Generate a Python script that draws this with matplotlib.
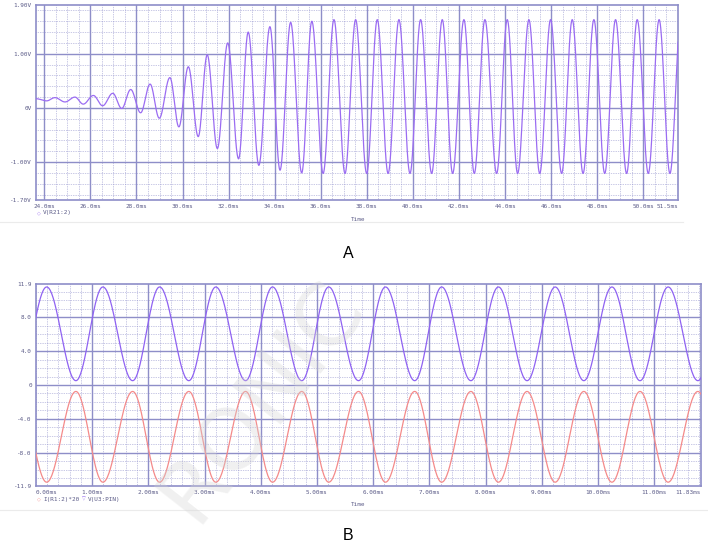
import numpy as np
import matplotlib
matplotlib.use("Agg")
import matplotlib.pyplot as plt
from matplotlib.lines import Line2D

# ---------------- data ----------------
# Panel A : V(R21:2) -- successive extrema (time in ms, volts)
a_time = [23.64, 24.10, 24.46, 24.90, 25.33, 25.69, 26.13, 26.53, 26.97, 27.36,
          27.75, 28.18, 28.59, 28.99, 29.45, 29.84, 30.25, 30.68, 31.07, 31.51,
          31.96, 32.43, 32.85, 33.31, 33.79, 34.23, 34.69, 35.17, 35.61, 36.10,
          36.57, 37.05, 37.51, 37.99, 38.45, 38.92, 39.39, 39.87, 40.33, 40.81,
          41.27, 41.72, 42.21, 42.66, 43.12, 43.63, 44.09, 44.54, 45.03, 45.50,
          45.97, 46.45, 46.91, 47.38, 47.85, 48.32, 48.79, 49.27, 49.73, 50.21,
          50.68, 51.15, 51.62]
a_volt = [0.17, 0.13, 0.19, 0.11, 0.20, 0.07, 0.23, 0.04, 0.27, -0.01,
          0.34, -0.09, 0.44, -0.19, 0.56, -0.35, 0.76, -0.53, 0.98, -0.75,
          1.20, -0.94, 1.40, -1.06, 1.50, -1.15, 1.58, -1.20, 1.60, -1.21,
          1.63, -1.21, 1.63, -1.21, 1.63, -1.21, 1.63, -1.21, 1.63, -1.21,
          1.63, -1.21, 1.63, -1.21, 1.63, -1.21, 1.63, -1.21, 1.63, -1.21,
          1.63, -1.21, 1.63, -1.21, 1.63, -1.21, 1.63, -1.21, 1.63, -1.21,
          1.63, -1.21, 1.63]
a_xticks = [24, 26, 28, 30, 32, 34, 36, 38, 40, 42, 44, 46, 48, 50]
a_xlabels = ["24.0ms", "26.0ms", "28.0ms", "30.0ms", "32.0ms", "34.0ms", "36.0ms",
             "38.0ms", "40.0ms", "42.0ms", "44.0ms", "46.0ms", "48.0ms", "50.0ms"]
a_yticks = [1.0, 0.0, -1.0]
a_ylabels = ["1.00V", "0V", "-1.00V"]

# Panel B : extrema times (ms) and levels of both traces
b_time = [-0.31, 0.19, 0.71, 1.19, 1.72, 2.20, 2.72, 3.20, 3.73, 4.21, 4.73,
          5.21, 5.74, 6.22, 6.74, 7.22, 7.74, 8.23, 8.74, 9.24, 9.75, 10.25,
          10.75, 11.25, 11.78, 12.28]
b_vpin = [0.51, 11.55] * 13          # V(U3:PIN)
b_ir1 = [-0.76, -11.45] * 13         # I(R1:2)*20
b_xticks = [1, 2, 3, 4, 5, 6, 7, 8, 9, 10, 11]
b_xlabels = ["1.00ms", "2.00ms", "3.00ms", "4.00ms", "5.00ms", "6.00ms",
             "7.00ms", "8.00ms", "9.00ms", "10.00ms", "11.00ms"]
b_yticks = [8.0, 4.0, 0.0, -4.0, -8.0]
b_ylabels = ["8.0", "4.0", "0", "-4.0", "-8.0"]


def smooth(ts, vs, n=40):
    xs, ys = [], []
    for i in range(len(ts) - 1):
        s = np.linspace(0, 1, n, endpoint=False)
        xs.append(ts[i] + (ts[i + 1] - ts[i]) * s)
        ys.append(vs[i] + (vs[i + 1] - vs[i]) * (1 - np.cos(np.pi * s)) / 2)
    xs.append([ts[-1]]); ys.append([vs[-1]])
    return np.concatenate(xs), np.concatenate(ys)


W, H = 708, 554
fig = plt.figure(figsize=(W / 100, H / 100), dpi=100)
fig.patch.set_facecolor("white")

TICKC = "#5c5c88"
MAJC = "#8e8ec8"
MINC = "#9292cc"
MONO = "DejaVu Sans Mono"
FS = 4.3


def style(ax, xmin, xmax, ymin, ymax, xmaj, ymaj, xmin_step, ymin_step):
    ax.set_xlim(xmin, xmax)
    ax.set_ylim(ymin, ymax)
    for sp in ax.spines.values():
        sp.set_color(MAJC)
        sp.set_linewidth(1.2)
    xm = np.arange(np.ceil(xmin / xmin_step) * xmin_step, xmax, xmin_step)
    for x in xm:
        ax.axvline(x, color=MINC, lw=0.5, ls=(0, (1.0, 1.5)), zorder=0)
    ym = np.arange(np.ceil(ymin / ymin_step) * ymin_step, ymax, ymin_step)
    for y in ym:
        ax.axhline(y, color=MINC, lw=0.5, ls=(0, (1.0, 1.5)), zorder=0)
    for x in xmaj:
        ax.axvline(x, color=MAJC, lw=1.0, zorder=0.5)
    for y in ymaj:
        ax.axhline(y, color=MAJC, lw=1.0, zorder=0.5)
    ax.tick_params(length=0, labelsize=FS, colors=TICKC, pad=3)


# ---------------- Panel A ----------------
axA = fig.add_axes([36 / W, 1 - 200 / H, (678 - 36) / W, 195 / H])
style(axA, 23.64, 51.5, -1.70, 1.90, a_xticks, a_yticks, 0.5, 0.2)
xa, ya = smooth(a_time, a_volt)
axA.plot(xa, ya, color="#9b6cf2", lw=0.9, zorder=3)
axA.set_xticks(a_xticks + [51.5])
axA.set_xticklabels(a_xlabels + ["51.5ms"], family=MONO)
axA.get_xticklabels()[-1].set_ha("right")
axA.set_yticks([1.9] + a_yticks + [-1.7])
axA.set_yticklabels(["1.90V"] + a_ylabels + ["-1.70V"], family=MONO)

fig.text(37 / W, 1 - 212.5 / H, "\u25c7", color="#9b6cf2", fontsize=3.5,
         va="center", ha="left")
fig.text(43 / W, 1 - 212.5 / H, "V(R21:2)", color=TICKC, fontsize=FS,
         family=MONO, va="center", ha="left")
fig.text(358 / W, 1 - 219 / H, "Time", color=TICKC, fontsize=FS, family=MONO,
         va="center", ha="center")
fig.add_artist(Line2D([0, 683 / W], [1 - 222.5 / H, 1 - 222.5 / H],
                      color="#ebebeb", lw=0.8))
fig.text(348 / W, 1 - 253 / H, "A", fontsize=11.5, family="Liberation Sans",
         va="center", ha="center", color="black")

# ---------------- Panel B ----------------
axB = fig.add_axes([36 / W, 1 - 486 / H, (700.7 - 36) / W, 202 / H])
style(axB, 0.0, 11.83, -11.9, 11.9, b_xticks, b_yticks, 0.2, 1.0)
xb, yb = smooth(b_time, b_vpin)
axB.plot(xb, yb, color="#8f62f2", lw=0.9, zorder=3)
xr, yr = smooth(b_time, b_ir1)
axB.plot(xr, yr, color="#f48a8a", lw=0.9, zorder=3)
axB.set_xticks([0.0] + b_xticks + [11.83])
axB.set_xticklabels(["0.00ms"] + b_xlabels + ["11.83ms"], family=MONO)
axB.get_xticklabels()[0].set_ha("left")
axB.get_xticklabels()[-1].set_ha("right")
axB.set_yticks([11.9] + b_yticks + [-11.9])
axB.set_yticklabels(["11.9"] + b_ylabels + ["-11.9"], family=MONO)

fig.text(37 / W, 1 - 499 / H, "\u25c7", color="#f48a8a", fontsize=3.5,
         va="center", ha="left")
fig.text(43 / W, 1 - 499 / H, "I(R1:2)*20", color=TICKC, fontsize=FS,
         family=MONO, va="center", ha="left")
fig.text(82 / W, 1 - 499 / H, "\u25bd", color="#8f62f2", fontsize=3.5,
         va="center", ha="left")
fig.text(88 / W, 1 - 499 / H, "V(U3:PIN)", color=TICKC, fontsize=FS,
         family=MONO, va="center", ha="left")
fig.text(358 / W, 1 - 504 / H, "Time", color=TICKC, fontsize=FS, family=MONO,
         va="center", ha="center")
fig.add_artist(Line2D([0, 1], [1 - 509.5 / H, 1 - 509.5 / H],
                      color="#ebebeb", lw=0.8))
fig.text(348 / W, 1 - 535 / H, "B", fontsize=11.5, family="Liberation Sans",
         va="center", ha="center", color="black")

# watermark
fig.text(262 / W, 1 - 400 / H, "RONIC", fontsize=62, family="DejaVu Sans",
         color="#d4d4d4", alpha=0.35, rotation=52, va="center", ha="center",
         zorder=10)

fig.savefig("out.png", dpi=100, facecolor="white")
